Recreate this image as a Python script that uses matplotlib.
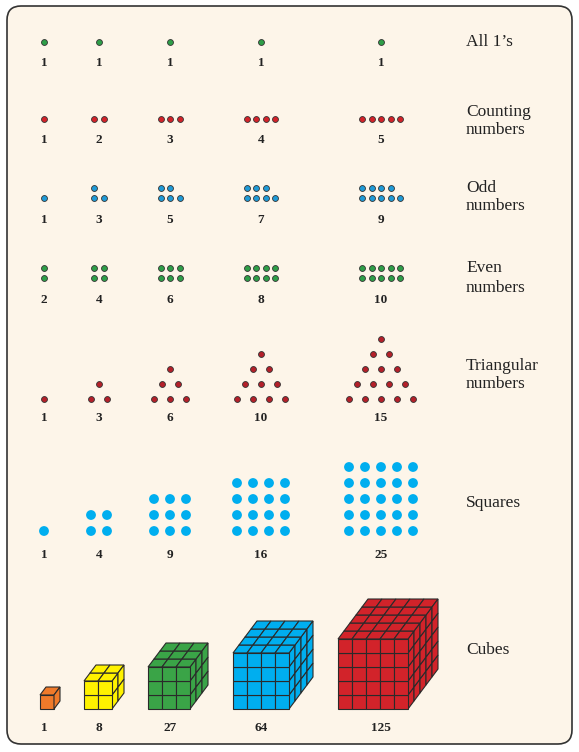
import matplotlib
matplotlib.use("Agg")
import matplotlib.pyplot as plt
from matplotlib.patches import FancyBboxPatch, Polygon

ones = [1, 1, 1, 1, 1]
counting = [1, 2, 3, 4, 5]
odd = [1, 3, 5, 7, 9]
even = [2, 4, 6, 8, 10]
triangular = [1, 3, 6, 10, 15]
squares = [1, 4, 9, 16, 25]
cubes = [1, 8, 27, 64, 125]
row_titles = ["All 1’s", "Counting\nnumbers", "Odd\nnumbers", "Even\nnumbers",
              "Triangular\nnumbers", "Squares", "Cubes"]

col_x = [44, 99, 170, 261, 381]
SERIF = ["Liberation Serif", "DejaVu Serif"]
fig = plt.figure(figsize=(5.79, 7.52), dpi=100)
ax = fig.add_axes([0, 0, 1, 1])
ax.set_xlim(0, 579); ax.set_ylim(752, 0); ax.axis("off")
fig.patch.set_facecolor("white")
ax.add_patch(FancyBboxPatch((7, 6), 565, 738, boxstyle="round,pad=0,rounding_size=14",
                            fc="#fdf5e9", ec="#333333", lw=1.2))

def lab(x, y, v):
    ax.text(x, y, str(v), ha="center", va="center", fontsize=9.5, fontweight="bold",
            family=SERIF, color="#222222")

def title(y, t):
    ax.text(466, y, t, ha="left", va="center", fontsize=12.5, family=SERIF,
            color="#222222", linespacing=1.25)

def dots(xs, ys, c, s=18, ec="#333333"):
    ax.scatter(xs, ys, s=s, c=c, edgecolors=ec, linewidths=0.6, zorder=3)

sp = 9.5
# All 1's
for x, v in zip(col_x, ones):
    dots([x], [42], "#2e9e48"); lab(x, 63, v)
title(42, row_titles[0])
# Counting
for x, v in zip(col_x, counting):
    xs = [x + (i - (v - 1) / 2) * sp for i in range(v)]
    dots(xs, [119] * v, "#d2232a"); lab(x, 140, v)
title(121, row_titles[1])
# Odd
for x, v in zip(col_x, odd):
    nb = (v + 1) // 2; nt = v // 2
    x0 = x - (nb - 1) / 2 * sp
    xs = [x0 + i * sp for i in range(nb)] + [x0 + i * sp for i in range(nt)]
    ys = [198] * nb + [188] * nt
    dots(xs, ys, "#1f9ad6"); lab(x, 220, v)
title(197, row_titles[2])
# Even
for x, v in zip(col_x, even):
    n = v // 2
    x0 = x - (n - 1) / 2 * sp
    xs = [x0 + i * sp for i in range(n)] * 2
    ys = [268] * n + [278] * n
    dots(xs, ys, "#2e9e48"); lab(x, 300, v)
title(278, row_titles[3])
# Triangular
for k, (x, v) in enumerate(zip(col_x, triangular)):
    n = k + 1
    xs, ys = [], []
    for r in range(n):
        cnt = n - r
        for i in range(cnt):
            xs.append(x + (i - (cnt - 1) / 2) * 16)
            ys.append(399 - r * 15)
    dots(xs, ys, "#b3202a"); lab(x, 418, v)
title(375, row_titles[4])
# Squares
for k, (x, v) in enumerate(zip(col_x, squares)):
    n = k + 1
    xs, ys = [], []
    for r in range(n):
        for i in range(n):
            xs.append(x + (i - (n - 1) / 2) * 16)
            ys.append(531 - r * 16)
    dots(xs, ys, "#00aeef", s=50, ec="none"); lab(x, 555, v)
title(503, row_titles[5])
# Cubes
cube_colors = ["#f07a2a", "#fff200", "#3aa447", "#00aeef", "#d2232a"]
cube_left = [40, 84, 148, 233, 338]
u, dx, dy, bottom = 14, 6, 8, 709
for k, v in enumerate(cubes):
    n = k + 1
    x0 = cube_left[k]; c = cube_colors[k]
    kw = dict(fc=c, ec="#2a2a2a", lw=0.8)
    ytop = bottom - n * u
    for i in range(n):
        for j in range(n):
            ax.add_patch(Polygon([(x0 + i*u, bottom - (j+1)*u), (x0 + (i+1)*u, bottom - (j+1)*u),
                                  (x0 + (i+1)*u, bottom - j*u), (x0 + i*u, bottom - j*u)], **kw))
            ax.add_patch(Polygon([(x0 + i*u + j*dx, ytop - j*dy), (x0 + (i+1)*u + j*dx, ytop - j*dy),
                                  (x0 + (i+1)*u + (j+1)*dx, ytop - (j+1)*dy),
                                  (x0 + i*u + (j+1)*dx, ytop - (j+1)*dy)], **kw))
            xr = x0 + n * u
            ax.add_patch(Polygon([(xr + i*dx, bottom - j*u - i*dy), (xr + (i+1)*dx, bottom - j*u - (i+1)*dy),
                                  (xr + (i+1)*dx, bottom - (j+1)*u - (i+1)*dy),
                                  (xr + i*dx, bottom - (j+1)*u - i*dy)], **kw))
    lab(col_x[k], 728, v)
title(650, row_titles[6])

fig.savefig("out.png", dpi=100)
